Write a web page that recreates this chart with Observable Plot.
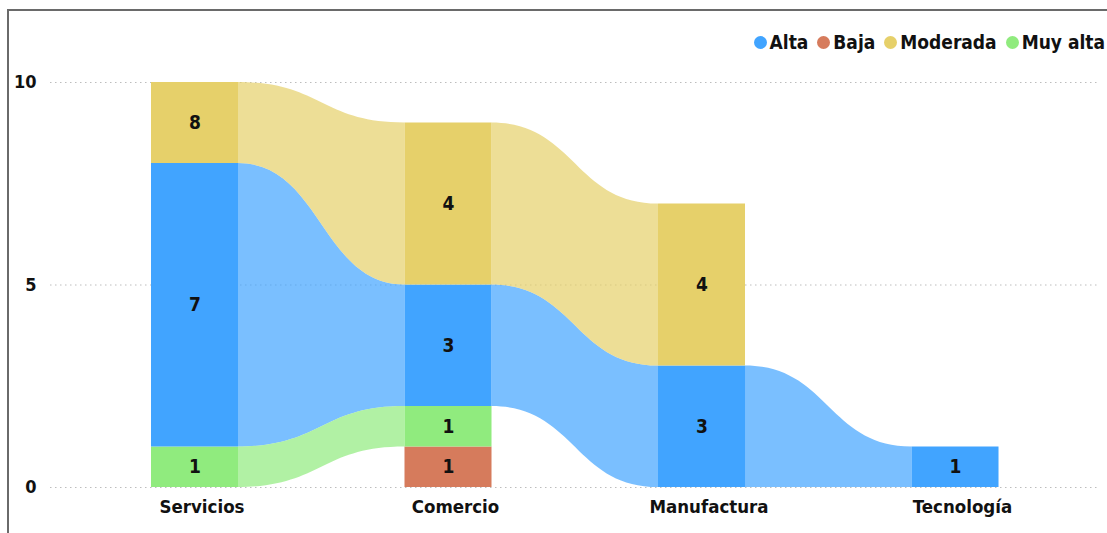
<!DOCTYPE html>
<html>
<head>
<meta charset="utf-8">
<script src="https://cdn.jsdelivr.net/npm/d3@7"></script>
<script src="https://cdn.jsdelivr.net/npm/@observablehq/plot@0.6"></script>
<style>
  html, body { margin: 0; padding: 0; background: #fff; }
  body { width: 1107px; height: 533px; position: relative; overflow: hidden;
         font-family: "DejaVu Sans Condensed", "DejaVu Sans", sans-serif; font-stretch: condensed; }
  #frame { position: absolute; left: 7px; top: 9px; width: 1110px; height: 540px;
           border-left: 2px solid #6a6a6a; border-top: 2px solid #6a6a6a; box-sizing: border-box; }
  #legend { position: absolute; top: 31px; right: 2px; display: flex; align-items: center;
            font-weight: bold; font-size: 19px; color: #111; }
  #legend .item { display: flex; align-items: center; margin-left: 9px; }
  #legend .dot { width: 13px; height: 13px; border-radius: 50%; margin-right: 3px; }
  #chart { position: absolute; left: 0; top: 60px; }
  #chart svg { font-family: "DejaVu Sans Condensed", "DejaVu Sans", sans-serif; font-stretch: condensed; }
</style>
</head>
<body>
<div id="frame"></div>
<div id="legend"></div>
<div id="chart"></div>
<script>
// ---- data ----
const categories = ["Servicios", "Comercio", "Manufactura", "Tecnología"];
const series = ["Alta", "Baja", "Moderada", "Muy alta"];
const alta = [7, 3, 3, 1];
const baja = [0, 1, 0, 0];
const moderada = [2, 4, 4, 0];
const muyAlta = [1, 1, 0, 0];
const stackOrder = ["Baja", "Muy alta", "Alta", "Moderada"]; // bottom to top
const labelOverrides = [{series: "Moderada", category: "Servicios", text: "8"}];
const colors = ["#41A4FF", "#D67B5C", "#E6D06A", "#90EB7E"];
const yTicks = [0, 5, 10];

// ---- build tables ----
const valuesBySeries = {"Alta": alta, "Baja": baja, "Moderada": moderada, "Muy alta": muyAlta};
const segs = [];
categories.forEach((c, i) => {
  let acc = 0;
  for (const s of stackOrder) {
    const v = valuesBySeries[s][i];
    if (v > 0) {
      const o = labelOverrides.find(d => d.series === s && d.category === c);
      segs.push({s, c, i, y1: acc, y2: acc + v, v, label: o ? o.text : String(v)});
      acc += v;
    }
  }
});
const hw = 0.1716; // half bar width in category units
const ribbon = [];
for (const s of series) {
  for (let i = 0; i < categories.length - 1; i++) {
    const a = segs.find(d => d.s === s && d.i === i);
    const b = segs.find(d => d.s === s && d.i === i + 1);
    if (a && b) {
      const key = s + "-" + i;
      ribbon.push({key, s, x: i + hw, y1: a.y1, y2: a.y2});
      ribbon.push({key, s, x: i + 1 - hw, y1: b.y1, y2: b.y2});
    }
  }
}

// ---- legend ----
const legend = document.getElementById("legend");
series.forEach((s, k) => {
  const it = document.createElement("div");
  it.className = "item";
  it.innerHTML = `<span class="dot" style="background:${colors[k]}"></span><span>${s}</span>`;
  legend.appendChild(it);
});

// ---- chart ----
const chart = Plot.plot({
  width: 1107,
  height: 473,
  marginLeft: 50,
  marginRight: 8,
  marginTop: 22,
  marginBottom: 46,
  x: {domain: [-0.57, 3.568], axis: null},
  y: {domain: [0, 10], axis: null},
  color: {domain: series, range: colors},
  marks: [
    Plot.ruleY(yTicks, {stroke: "#bdbdbd", strokeDasharray: "1.5,3.5", strokeWidth: 1}),
    Plot.areaY(ribbon, {x: "x", y1: "y1", y2: "y2", z: "key", fill: "s", fillOpacity: 0.7, curve: "bump-x"}),
    Plot.rect(segs, {x1: d => d.i - hw, x2: d => d.i + hw, y1: "y1", y2: "y2", fill: "s"}),
    Plot.text(segs, {x: "i", y: d => (d.y1 + d.y2) / 2, text: "label", fill: "#111", fontSize: 19, fontWeight: "bold"}),
    Plot.axisX([0, 1, 2, 3], {tickFormat: i => categories[i], tickSize: 0, tickPadding: 12, fontSize: 18.5, fontWeight: "bold", fill: "#111", dx: 7, label: null}),
    Plot.axisY(yTicks, {tickSize: 0, tickPadding: 14, fontSize: 18, fontWeight: "bold", fill: "#111", label: null})
  ]
});
document.getElementById("chart").appendChild(chart);
</script>
</body>
</html>
